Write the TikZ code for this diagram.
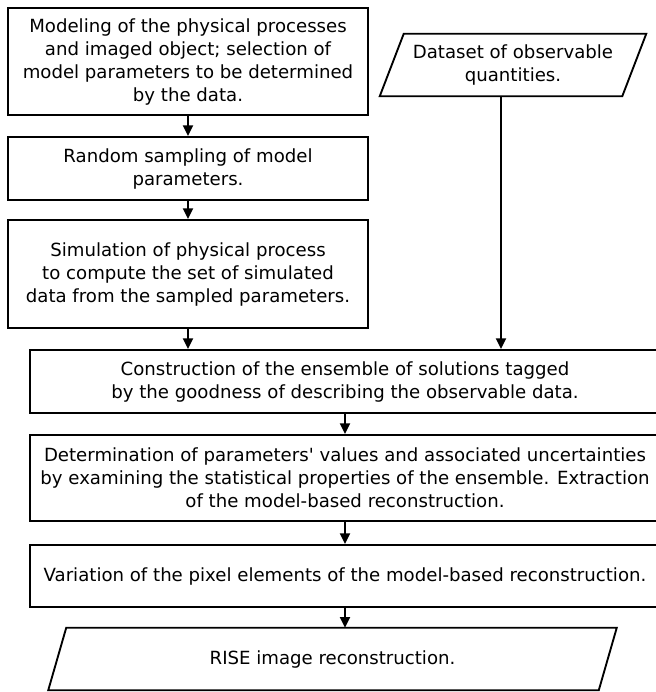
\documentclass[tikz,border=0pt]{standalone}
\usepackage{fontspec}
\setmainfont{DejaVu Sans}[Ligatures=TeXOff]
\usepackage{tikz}
\usetikzlibrary{arrows.meta}
\usetikzlibrary{positioning}
\tikzset{process/.style={rectangle,draw=black,line width=1.4pt,align=center,inner sep=2pt}}
\tikzset{iotext/.style={rectangle,align=center,inner sep=2pt}}
\tikzset{ioline/.style={draw=black,line width=1.4pt}}
\tikzset{flow/.style={line width=1.4pt,-{Triangle[length=8pt,width=7.5pt]}}}

\begin{document}
\begin{tikzpicture}[x=0.75pt,y=-0.75pt,font=\fontsize{13.6}{17.25}\selectfont]
\useasboundingbox (0,0) rectangle (656,692);
% left column
\node[process,minimum width=270pt,minimum height=80.25pt] (model) at (188,61.5)
  {Modeling of the physical processes\\and imaged object; selection of\\model parameters to be determined\\by the data.};
\node[process,minimum width=270pt,minimum height=47.25pt] (sampling) at (188,168.5)
  {Random sampling of model\\parameters.};
\node[process,minimum width=270pt,minimum height=81pt] (simul) at (188,274)
  {Simulation of physical process\\to compute the set of simulated\\data from the sampled parameters.};
% data input
\node[iotext,minimum width=181.5pt,minimum height=46.5pt] (data) at (513,65)
  {Dataset of observable\\quantities.};
\draw[ioline] ([xshift=9pt]data.north west) -- ([xshift=9pt]data.north east)
  -- ([xshift=-9pt]data.south east) -- ([xshift=-9pt]data.south west) -- cycle;
\coordinate (datafoot) at ([xshift=-9pt]data.south);
% lower chain
\node[process,minimum width=472.5pt,minimum height=47.25pt] (ensemble) at (345,381.5)
  {Construction of the ensemble of solutions tagged\\by the goodness of describing the observable data.};
\node[process,minimum width=472.5pt,minimum height=64.5pt] (determ) at (345,478)
  {Determination of parameters' values and associated uncertainties\\by examining the statistical properties of the ensemble. Extraction\\of the model-based reconstruction.};
\node[process,minimum width=472.5pt,minimum height=46.5pt] (variation) at (345,576)
  {Variation of the pixel elements of the model-based reconstruction.};
\node[iotext,minimum width=412.5pt,minimum height=46.5pt] (rise) at (332.5,659)
  {RISE image reconstruction.};
\draw[ioline] ([xshift=6.75pt]rise.north west) -- ([xshift=6.75pt]rise.north east)
  -- ([xshift=-6.75pt]rise.south east) -- ([xshift=-6.75pt]rise.south west) -- cycle;

\draw[flow] (model) -- (sampling);
\draw[flow] (sampling) -- (simul);
\draw[flow] (simul.south) -- (simul.south |- ensemble.north);
\draw[flow] (datafoot) -- (datafoot |- ensemble.north);
\draw[flow] (ensemble) -- (determ);
\draw[flow] (determ) -- (variation);
\draw[flow] (variation.south) -- (variation.south |- rise.north);
\end{tikzpicture}
\end{document}
